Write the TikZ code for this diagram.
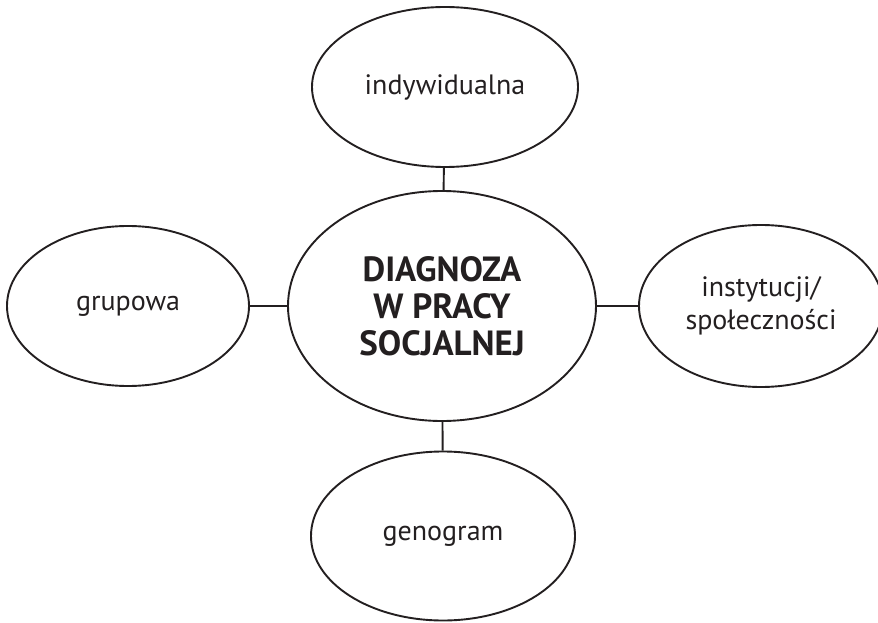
\documentclass[tikz,border=0pt]{standalone}
\usepackage{fontspec}
\setmainfont{PT Sans}
\usetikzlibrary{shapes.geometric}
\definecolor{ink}{HTML}{231F20}
\begin{document}
\begin{tikzpicture}[x=1pt,y=-1pt,
  oval/.style={draw=ink,line width=1.9pt,ellipse,inner sep=0pt,text=ink,font=\fontsize{28}{33}\selectfont,align=center},
  link/.style={draw=ink,line width=1.9pt}]
\useasboundingbox (0,0) rectangle (878,623);
\node[oval,minimum width=308pt,minimum height=230pt,font=\fontsize{35}{37}\selectfont\bfseries] (c) at (442,306) {DIAGNOZA\\W PRACY\\SOCJALNEJ};
\node[oval,minimum width=266pt,minimum height=160pt] (t) at (445,87) {indywidualna};
\node[oval,minimum width=242pt,minimum height=160pt] (l) at (128,306) {grupowa};
\node[oval,minimum width=244pt,minimum height=162pt] (r) at (761,306) {instytucji/\\społeczności};
\node[oval,minimum width=264pt,minimum height=169pt] (b) at (443,536) {genogram};
\draw[link] (t) -- (c);
\draw[link] (l) -- (c);
\draw[link] (c) -- (r);
\draw[link] (c) -- (b);
\end{tikzpicture}
\end{document}
